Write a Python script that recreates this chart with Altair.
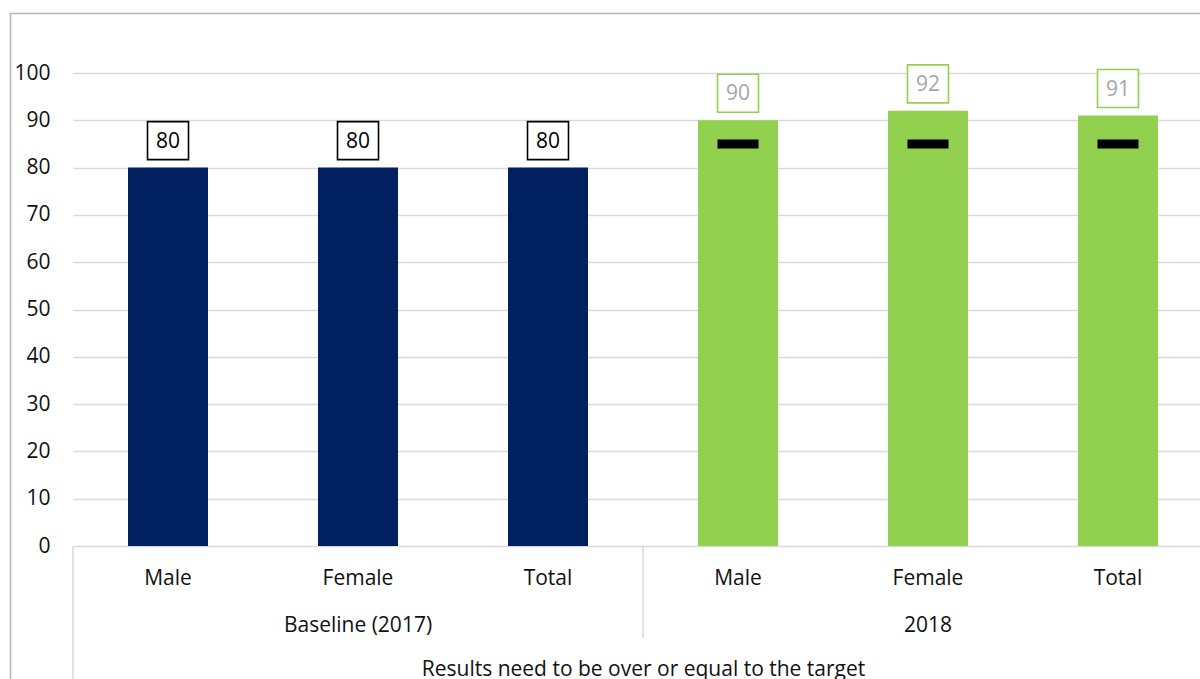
import altair as alt
import pandas as pd

# ---- data ----
groups = ["Baseline (2017)", "2018"]
categories = ["Male", "Female", "Total"]
baseline_values = [80, 80, 80]
values_2018 = [90, 92, 91]
targets_2018 = [85, 85, 85]
axis_title = "Results need to be over or equal to the target"

FONT = "Open Sans"
FS = 21
NAVY = "#002060"
GREEN = "#92D050"
GRID = "#d9d9d9"
TEXT = "#111111"

W, H = 1127, 473          # visible plot area (the band range runs a bit past the right edge)
RANGE_W = 1140

rows = []
for g, vals in zip(groups, [baseline_values, values_2018]):
    for c, v in zip(categories, vals):
        rows.append({"group": g, "category": c, "key": f"{g}|{c}", "value": v})
bars_df = pd.DataFrame(rows)
keys = list(bars_df["key"])

target_df = pd.DataFrame({
    "key": [f"{groups[1]}|{c}" for c in categories],
    "target": targets_2018,
})
group_df = pd.DataFrame({
    "key": [f"{g}|{categories[1]}" for g in groups],
    "group": groups,
})
sep_df = pd.DataFrame({"key": [f"{groups[0]}|{categories[-1]}"]})
one_df = pd.DataFrame({"k": [0]})

x_enc = alt.X(
    "key:N",
    sort=keys,
    scale=alt.Scale(domain=keys, range=[0, RANGE_W], paddingInner=0.5789, paddingOuter=0.2895),
    axis=alt.Axis(
        title=axis_title,
        labelExpr="split(datum.label, '|')[1]",
        labelAngle=0,
        labelFont=FONT,
        labelFontSize=FS,
        labelColor=TEXT,
        labelBaseline="middle",
        labelPadding=32,
        domain=False,
        ticks=False,
        grid=False,
        titleFont=FONT,
        titleFontSize=FS,
        titleFontWeight="normal",
        titleColor=TEXT,
        titleBaseline="middle",
        titleY=123,
        titleX=RANGE_W / 2,
    ),
)
y_scale = alt.Scale(domain=[0, 100], nice=False)
y_axis = alt.Axis(
    title=None,
    values=list(range(0, 101, 10)),
    labelFont=FONT,
    labelFontSize=FS,
    labelColor=TEXT,
    labelPadding=23,
    domain=False,
    ticks=False,
    gridColor=GRID,
    gridWidth=1.5,
)

is_2018 = alt.datum.group == groups[1]

bars = alt.Chart(bars_df).mark_bar(size=80).encode(
    x=x_enc,
    y=alt.Y("value:Q", scale=y_scale, axis=y_axis),
    color=alt.Color("group:N", scale=alt.Scale(domain=groups, range=[NAVY, GREEN]), legend=None),
)

targets = alt.Chart(target_df).mark_tick(color="black", thickness=9, size=41, opacity=1).encode(
    x=x_enc,
    y=alt.Y("target:Q", scale=y_scale),
)

boxes = alt.Chart(bars_df).mark_point(
    shape="M-1,-0.927H1V0.927H-1Z",
    size=1681,
    filled=True,
    fill="white",
    fillOpacity=1,
    strokeWidth=1.6,
    opacity=1,
    yOffset=-27,
).encode(
    x=x_enc,
    y=alt.Y("value:Q", scale=y_scale),
    stroke=alt.condition(is_2018, alt.value(GREEN), alt.value("#000000")),
)

labels = alt.Chart(bars_df).mark_text(
    font=FONT, fontSize=FS, baseline="middle", dy=-26
).encode(
    x=x_enc,
    y=alt.Y("value:Q", scale=y_scale),
    text=alt.Text("value:Q"),
    color=alt.condition(is_2018, alt.value("#a6a6a6"), alt.value("#000000")),
)

group_labels = alt.Chart(group_df).mark_text(
    font=FONT, fontSize=FS, baseline="middle", color=TEXT
).encode(
    x=x_enc,
    y=alt.value(H + 80),
    text="group:N",
)

separator = alt.Chart(sep_df).mark_rule(color=GRID, strokeWidth=1.5, xOffset=95).encode(
    x=x_enc,
    y=alt.value(H),
    y2=alt.value(H + 92),
)

left_edge = alt.Chart(one_df).mark_rule(color=GRID, strokeWidth=1.5).encode(
    x=alt.value(0),
    y=alt.value(H),
    y2=alt.value(H + 160),
)

frame = alt.Chart(one_df).mark_rect(
    fillOpacity=0, stroke="#b3b3b3", strokeWidth=1.5
).encode(
    x=alt.value(-62.5),
    x2=alt.value(1300),
    y=alt.value(-59.5),
    y2=alt.value(H + 300),
)

chart = alt.layer(
    frame, bars, targets, boxes, labels, group_labels, separator, left_edge
).properties(
    width=W,
    height=H,
    autosize=alt.AutoSizeParams(type="none"),
    padding={"left": 73, "top": 73, "right": 0, "bottom": 133},
    background="white",
).configure_view(strokeWidth=0)

chart.save("out.html", embed_options={"renderer": "svg", "actions": False})
